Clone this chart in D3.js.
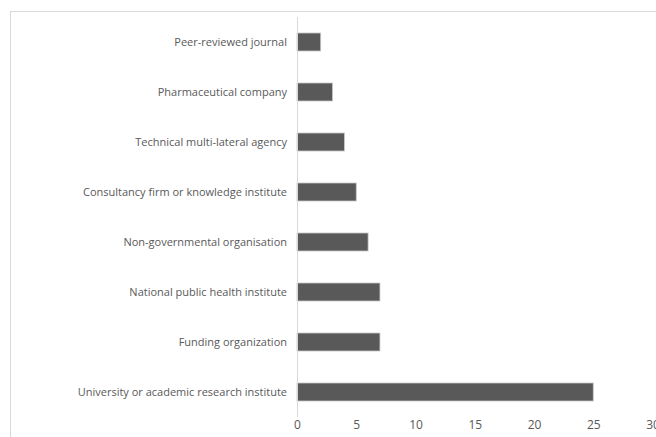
<!DOCTYPE html>
<html>
<head>
<meta charset="utf-8">
<script src="https://cdn.jsdelivr.net/npm/d3@7"></script>
<style>
  body { margin: 0; background: #fff; }
  text { font-family: "Open Sans", "Liberation Sans", sans-serif; fill: #595959; }
</style>
</head>
<body>
<div id="chart"></div>
<script>
// categories from top to bottom
const categories = [
    "Peer-reviewed journal",
    "Pharmaceutical company",
    "Technical multi-lateral agency",
    "Consultancy firm or knowledge institute",
    "Non-governmental organisation",
    "National public health institute",
    "Funding organization",
    "University or academic research institute"
];
const counts = [2, 3, 4, 5, 6, 7, 7, 25];
const xTicks = [0, 5, 10, 15, 20, 25, 30];

const width = 656, height = 437;
const margin = {top: 17, right: 4, bottom: 20, left: 297};

const svg = d3.select("#chart").append("svg")
    .attr("width", width)
    .attr("height", height);

// outer chart border (runs off the page on right and bottom)
svg.append("rect")
    .attr("x", 10.5).attr("y", 11.5)
    .attr("width", 700).attr("height", 500)
    .attr("fill", "none")
    .attr("stroke", "#d9d9d9");

const x = d3.scaleLinear()
    .domain([0, 30])
    .range([margin.left, margin.left + 355.5]);

const y = d3.scaleBand()
    .domain(categories)
    .range([margin.top, margin.top + 400])
    .paddingInner(0.64)
    .paddingOuter(0.32);

// bars
svg.append("g").selectAll("rect")
    .data(categories)
    .join("rect")
    .attr("x", x(0))
    .attr("y", d => y(d))
    .attr("width", (d, i) => x(counts[i]) - x(0))
    .attr("height", y.bandwidth())
    .attr("fill", "#595959")
    .attr("stroke", "#c8c8c8")
    .attr("stroke-width", 0.8);

// vertical category axis line
svg.append("line")
    .attr("x1", x(0) + 0.5).attr("x2", x(0) + 0.5)
    .attr("y1", margin.top).attr("y2", margin.top + 400)
    .attr("stroke", "#d9d9d9");

// category labels
svg.append("g").selectAll("text")
    .data(categories)
    .join("text")
    .attr("x", x(0) - 10)
    .attr("y", d => y(d) + y.bandwidth() / 2)
    .attr("dy", "0.35em")
    .attr("text-anchor", "end")
    .style("font-size", "11px")
    .text(d => d);

// value axis
const xAxis = d3.axisBottom(x).tickValues(xTicks).tickSize(0).tickPadding(0);
const gx = svg.append("g")
    .attr("transform", "translate(0,425)")
    .call(xAxis);
gx.select(".domain").remove();
gx.selectAll("text")
    .attr("dy", "0.35em")
    .style("font-size", "12px")
    .style("font-family", "\"Open Sans\", sans-serif")
    .attr("fill", "#595959");
</script>
</body>
</html>
